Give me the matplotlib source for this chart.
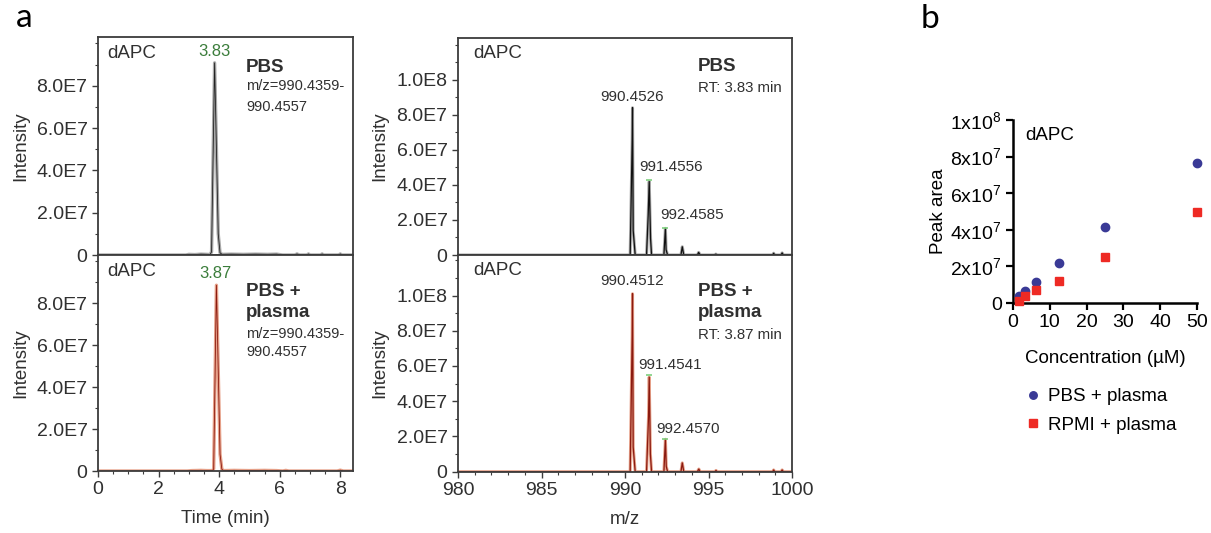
import matplotlib
matplotlib.use('Agg')
import matplotlib.pyplot as plt
from matplotlib.ticker import MultipleLocator, FuncFormatter

plt.rcParams['font.family'] = ['Liberation Sans', 'DejaVu Sans']
plt.rcParams['mathtext.fontset'] = 'custom'
plt.rcParams['mathtext.rm'] = 'Liberation Sans'
plt.rcParams['mathtext.it'] = 'Liberation Sans:italic'

# extracted ion chromatograms (time in min, intensity)
time_pbs = [0.0, 2.9, 3.0, 3.2, 3.4, 3.6, 3.70, 3.75, 3.85, 3.97, 4.03, 4.10, 4.4, 4.8,
            5.2, 5.6, 5.9, 6.1, 6.5, 6.57, 6.65, 6.9, 6.95, 7.0, 7.35, 7.4, 7.45, 7.95, 8.0, 8.05, 8.4]
int_pbs = [0, 0, 3e5, 2e5, 4e5, 3e5, 2e5, 1.5e6, 9.08e7, 1.0e7, 1.0e6, 3e5, 4e5, 3e5,
           4e5, 3e5, 4e5, 0, 0, 5e5, 0, 0, 5e5, 0, 0, 5e5, 0, 0, 5e5, 0, 0]
time_pl = [0.0, 2.95, 3.1, 3.4, 3.6, 3.78, 3.82, 3.91, 4.03, 4.09, 4.15, 4.5, 5.0, 5.5,
           5.9, 6.1, 6.2, 6.3, 7.9, 8.0, 8.1, 8.4]
int_pl = [0, 0, 2e5, 3e5, 2e5, 2e5, 1e6, 8.86e7, 8e6, 8e5, 2e5, 3e5, 2e5, 3e5,
          2e5, 0, 3e5, 0, 0, 4e5, 0, 0]
rt_labels = ['3.83', '3.87']
rt_pos = [3.83, 3.87]

# mass spectra (m/z, intensity) profile points
mz_pbs = [980.0, 990.31, 990.43, 990.45, 990.49, 990.61, 991.29, 991.39, 991.45, 991.53, 991.59,
          992.33, 992.42, 992.46, 992.55, 993.35, 993.43, 993.52, 994.33, 994.41, 994.50,
          995.38, 995.44, 995.52, 998.84, 998.90, 998.97, 999.34, 999.41, 999.48, 1000.0]
ms_pbs = [0, 0, 6.5e7, 8.4e7, 1.4e7, 0, 0, 2.3e7, 4.19e7, 0.95e7, 0,
          0, 1.52e7, 3e6, 0, 0, 4.7e6, 0, 0, 1.5e6, 0,
          0, 5e5, 0, 0, 1e6, 0, 0, 1.2e6, 0, 0]
mz_pl = [980.0, 990.31, 990.43, 990.45, 990.49, 990.61, 991.29, 991.41, 991.45, 991.52, 991.59,
         992.33, 992.42, 992.47, 992.55, 993.35, 993.43, 993.52, 994.33, 994.42, 994.50,
         995.38, 995.45, 995.52, 998.84, 998.90, 998.97, 999.34, 999.41, 999.48, 1000.0]
ms_pl = [0, 0, 7.7e7, 1.01e8, 1.4e7, 0, 0, 3.13e7, 5.37e7, 1.0e7, 0,
         0, 1.84e7, 3e6, 0, 0, 5e6, 0, 0, 1.5e6, 0,
         0, 7e5, 0, 0, 1e6, 0, 0, 1e6, 0, 0]
peak_mz_pbs = [990.45, 991.45, 992.42]
peak_int_pbs = [8.4e7, 4.19e7, 1.52e7]
peak_lab_pbs = ['990.4526', '991.4556', '992.4585']
peak_mz_pl = [990.45, 991.45, 992.42]
peak_int_pl = [1.01e8, 5.37e7, 1.84e7]
peak_lab_pl = ['990.4512', '991.4541', '992.4570']

# calibration (panel b)
conc = [1.5625, 3.125, 6.25, 12.5, 25, 50]
area_pbs = [3.6e6, 6.4e6, 11.3e6, 21.8e6, 41.3e6, 76.4e6]
area_rpmi = [1.3e6, 3.6e6, 7.3e6, 11.8e6, 25.1e6, 49.5e6]

W, H = 1211, 533
fig = plt.figure(figsize=(W / 100, H / 100), dpi=100)


def px_axes(l, t, r, b):
    return fig.add_axes([l / W, 1 - b / H, (r - l) / W, (b - t) / H])


def e_fmt(v, pos):
    if v == 0:
        return '0'
    s = '%.1E' % v
    m, e = s.split('E')
    return '%sE%d' % (m, int(e))


frame_c = '#3c3c3c'
txt_c = '#303030'
green = '#3b7d3b'


def style_a(ax, bottom_labels):
    for sp in ax.spines.values():
        sp.set_linewidth(1.3)
        sp.set_color(frame_c)
    ax.tick_params(axis='both', which='major', direction='out', length=4, width=1,
                   color=frame_c, labelsize=14, labelcolor=txt_c)
    ax.tick_params(axis='both', which='minor', direction='out', length=2.5, width=0.8,
                   color=frame_c)
    ax.tick_params(axis='x', which='both', top=False)
    ax.tick_params(axis='y', which='both', right=False)
    ax.yaxis.set_major_formatter(FuncFormatter(e_fmt))
    if not bottom_labels:
        ax.tick_params(axis='x', which='both', bottom=False, labelbottom=False)


# chromatograms
ax1 = px_axes(98, 37, 353, 255)
ax2 = px_axes(98, 255, 353, 471)
for ax, t, y, lbl, rt, dark, light in [
        (ax1, time_pbs, int_pbs, rt_labels[0], rt_pos[0], '#222222', '#a8a8a8'),
        (ax2, time_pl, int_pl, rt_labels[1], rt_pos[1], '#8b1a10', '#e6a088')]:
    ax.plot(t, y, color=light, lw=2.4)
    ax.plot(t, y, color=dark, lw=0.6)
    ax.set_xlim(0, 8.42)
    ax.set_ylim(0, 1.03e8)
    ax.set_yticks([0, 2e7, 4e7, 6e7, 8e7])
    ax.yaxis.set_minor_locator(MultipleLocator(1e7))
    ax.xaxis.set_major_locator(MultipleLocator(2))
    ax.xaxis.set_minor_locator(MultipleLocator(0.5))
    ax.text(rt, max(y) * 1.02, lbl, color=green, fontsize=12, ha='center', va='bottom')
    ax.text(0.035, 0.925, 'dAPC', transform=ax.transAxes, fontsize=13.5, color=txt_c, va='center')
    ax.set_ylabel('Intensity', fontsize=13.5, color=txt_c)
    ax.yaxis.set_label_coords(-0.27, 0.5)
style_a(ax1, False)
style_a(ax2, True)
ax2.set_xlabel('Time (min)', fontsize=13.5, color=txt_c)
ax2.xaxis.set_label_coords(0.5, -0.18)
ax1.text(0.58, 0.862, 'PBS', transform=ax1.transAxes, fontsize=13.5, fontweight='bold', color=txt_c, va='center')
ax1.text(0.58, 0.775, 'm/z=990.4359-', transform=ax1.transAxes, fontsize=10.5, color=txt_c, va='center')
ax1.text(0.58, 0.679, '990.4557', transform=ax1.transAxes, fontsize=10.5, color=txt_c, va='center')
ax2.text(0.58, 0.829, 'PBS +', transform=ax2.transAxes, fontsize=13.5, fontweight='bold', color=txt_c, va='center')
ax2.text(0.58, 0.736, 'plasma', transform=ax2.transAxes, fontsize=13.5, fontweight='bold', color=txt_c, va='center')
ax2.text(0.58, 0.634, 'm/z=990.4359-', transform=ax2.transAxes, fontsize=10.5, color=txt_c, va='center')
ax2.text(0.58, 0.551, '990.4557', transform=ax2.transAxes, fontsize=10.5, color=txt_c, va='center')

# mass spectra
ax3 = px_axes(458, 37.6, 792, 255)
ax4 = px_axes(458, 255, 792, 471.7)
label_xy_pbs = [(990.45, 9.0e7), (992.73, 5.0e7), (994.0, 2.3e7)]
label_xy_pl = [(990.45, 1.08e8), (992.67, 6.07e7), (993.77, 2.43e7)]
for ax, mz, inten, pk_mz, pk_int, pk_lab, lxy, dark, light, top in [
        (ax3, mz_pbs, ms_pbs, peak_mz_pbs, peak_int_pbs, peak_lab_pbs, label_xy_pbs, '#111111', '#a8a8a8', 1.24e8),
        (ax4, mz_pl, ms_pl, peak_mz_pl, peak_int_pl, peak_lab_pl, label_xy_pl, '#8b1a10', '#e6a088', 1.23e8)]:
    ax.plot(mz, inten, color=light, lw=2.2)
    ax.plot(mz, inten, color=dark, lw=0.9)
    ax.scatter(pk_mz[1:], [v * 1.02 for v in pk_int[1:]], marker='_', s=25, color='#7fd07f', lw=1.2, zorder=3)
    for lab, (x, y) in zip(pk_lab, lxy):
        ax.text(x, y, lab, fontsize=11, color=txt_c, ha='center', va='center')
    ax.set_xlim(980, 1000)
    ax.set_ylim(0, top)
    ax.set_yticks([0, 2e7, 4e7, 6e7, 8e7, 1e8])
    ax.yaxis.set_minor_locator(MultipleLocator(1e7))
    ax.xaxis.set_major_locator(MultipleLocator(5))
    ax.xaxis.set_minor_locator(MultipleLocator(1))
    ax.text(0.045, 0.927, 'dAPC', transform=ax.transAxes, fontsize=13.5, color=txt_c, va='center')
    ax.set_ylabel('Intensity', fontsize=13.5, color=txt_c)
    ax.yaxis.set_label_coords(-0.21, 0.5)
style_a(ax3, False)
style_a(ax4, True)
ax4.set_xlabel('m/z', fontsize=13.5, color=txt_c)
ax4.xaxis.set_label_coords(0.5, -0.18)
ax3.text(0.719, 0.865, 'PBS', transform=ax3.transAxes, fontsize=13.5, fontweight='bold', color=txt_c, va='center')
ax3.text(0.719, 0.768, 'RT: 3.83 min', transform=ax3.transAxes, fontsize=10.8, color=txt_c, va='center')
ax4.text(0.719, 0.83, 'PBS +', transform=ax4.transAxes, fontsize=13.5, fontweight='bold', color=txt_c, va='center')
ax4.text(0.719, 0.734, 'plasma', transform=ax4.transAxes, fontsize=13.5, fontweight='bold', color=txt_c, va='center')
ax4.text(0.719, 0.632, 'RT: 3.87 min', transform=ax4.transAxes, fontsize=10.8, color=txt_c, va='center')

# panel b
ax5 = px_axes(1013, 120, 1197, 303)
ax5.plot(conc, area_pbs, 'o', color='#3a3a96', ms=6, clip_on=False, label='PBS + plasma', zorder=3)
ax5.plot(conc, area_rpmi, 's', color='#ee2a24', ms=6, clip_on=False, label='RPMI + plasma', zorder=3)
ax5.set_xlim(0, 50)
ax5.set_ylim(0, 1e8)
ax5.set_xticks([0, 10, 20, 30, 40, 50])
ax5.set_yticks([0, 2e7, 4e7, 6e7, 8e7, 1e8])
ax5.set_yticklabels(['0', r'2x10$^7$', r'4x10$^7$', r'6x10$^7$', r'8x10$^7$', r'1x10$^8$'])
for s in ['top', 'right']:
    ax5.spines[s].set_visible(False)
for s in ['left', 'bottom']:
    ax5.spines[s].set_linewidth(1.8)
ax5.tick_params(direction='out', length=5, width=1.6, labelsize=14, pad=3)
ax5.text(0.065, 0.918, 'dAPC', transform=ax5.transAxes, fontsize=13.5, va='center')
ax5.set_ylabel('Peak area', fontsize=13.5)
ax5.yaxis.set_label_coords(-0.36, 0.5)
ax5.set_xlabel('Concentration (\u00b5M)', fontsize=13.5)
ax5.xaxis.set_label_coords(0.5, -0.255)
ax5.legend(loc='upper left', bbox_to_anchor=(1025 / W, 1 - 388 / H), bbox_transform=fig.transFigure,
           frameon=False, fontsize=13.5, handlelength=0.8, handletextpad=0.45, labelspacing=0.6,
           borderpad=0, borderaxespad=0, markerscale=0.9)

fig.text(24 / W, 1 - 18 / H, 'a', fontsize=24, family='Lato', ha='center', va='center')
fig.text(930 / W, 1 - 19 / H, 'b', fontsize=24, family='Lato', ha='center', va='center')

fig.savefig('out.png', dpi=100)
